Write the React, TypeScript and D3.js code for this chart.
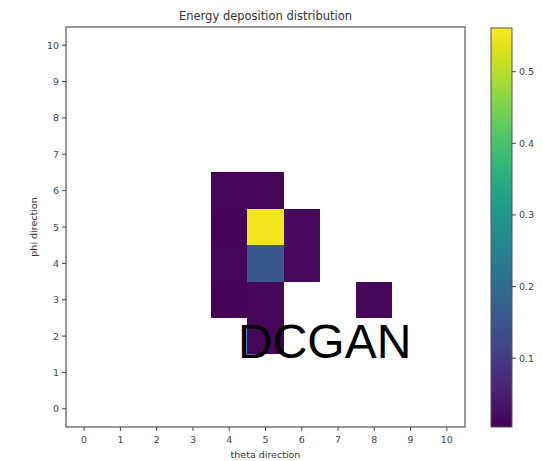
import React from 'react';
import * as d3 from 'd3';

// cells of the deposition map (theta index, phi index, energy)
const cellTheta = [4, 4, 4, 4, 5, 5, 5, 5, 5, 6, 6, 8];
const cellPhi = [6, 5, 4, 3, 6, 5, 4, 3, 2, 5, 4, 3];
const cellValue = [0.012, 0.01, 0.011, 0.01, 0.012, 0.55, 0.155, 0.014, 0.012, 0.017, 0.015, 0.014];

const tickValues = [0, 1, 2, 3, 4, 5, 6, 7, 8, 9, 10];
const colorTicks = [0.1, 0.2, 0.3, 0.4, 0.5];
const colorMin = 0.004;
const colorMax = 0.561;

export default function App() {
  const left = 66, right = 465, top = 27, bottom = 427;
  const x = d3.scaleLinear().domain([-0.5, 10.5]).range([left, right]);
  const y = d3.scaleLinear().domain([-0.5, 10.5]).range([bottom, top]);
  const color = d3.scaleSequential(d3.interpolateViridis).domain([colorMin, colorMax]);

  const cbLeft = 491, cbRight = 512;
  const cb = d3.scaleLinear().domain([colorMin, colorMax]).range([bottom, top + 1]);
  const stops = d3.range(0, 1.0001, 0.05);

  const tickColor = '#444';
  const font = 'DejaVu Sans, sans-serif';

  return (
    <svg width={543} height={461} style={{ position: 'absolute', left: 0, top: 0, background: '#fff' }}>
      <defs>
        <linearGradient id="cbar" x1="0" y1="1" x2="0" y2="0">
          {stops.map((t) => (
            <stop key={t} offset={t} stopColor={d3.interpolateViridis(t)} />
          ))}
        </linearGradient>
      </defs>
      <text x={(left + right) / 2} y={20} textAnchor="middle" fontFamily={font} fontSize={11.5} fill="#333">
        Energy deposition distribution
      </text>

      {cellValue.map((v, i) => (
        <rect
          key={i}
          x={x(cellTheta[i] - 0.5)}
          y={y(cellPhi[i] + 0.5)}
          width={x(cellTheta[i] + 0.5) - x(cellTheta[i] - 0.5)}
          height={y(cellPhi[i] - 0.5) - y(cellPhi[i] + 0.5)}
          fill={color(v)}
          shapeRendering="crispEdges"
        />
      ))}

      <rect x={left} y={top} width={right - left} height={bottom - top} fill="none" stroke="#555" strokeWidth={1.2} />

      {tickValues.map((t) => (
        <g key={'x' + t}>
          <line x1={x(t)} x2={x(t)} y1={bottom} y2={bottom + 4} stroke={tickColor} />
          <text x={x(t)} y={bottom + 16} textAnchor="middle" fontFamily={font} fontSize={9.5} fill={tickColor}>{t}</text>
        </g>
      ))}
      {tickValues.map((t) => (
        <g key={'y' + t}>
          <line x1={left - 4} x2={left} y1={y(t)} y2={y(t)} stroke={tickColor} />
          <text x={left - 7} y={y(t) + 3.5} textAnchor="end" fontFamily={font} fontSize={9.5} fill={tickColor}>{t}</text>
        </g>
      ))}
      <text x={(left + right) / 2} y={458} textAnchor="middle" fontFamily={font} fontSize={9.5} fill="#333">theta direction</text>
      <text transform={`translate(37,${(top + bottom) / 2}) rotate(-90)`} textAnchor="middle" fontFamily={font} fontSize={9.5} fill="#333">phi direction</text>

      <rect x={cbLeft} y={top + 1} width={cbRight - cbLeft} height={bottom - top - 1} fill="url(#cbar)" stroke="#555" strokeWidth={1} />
      {colorTicks.map((t) => (
        <g key={'c' + t}>
          <line x1={cbRight} x2={cbRight + 4} y1={cb(t)} y2={cb(t)} stroke={tickColor} />
          <text x={cbRight + 7} y={cb(t) + 3.5} fontFamily={font} fontSize={9.5} fill={tickColor}>{t.toFixed(1)}</text>
        </g>
      ))}

      <text x={238} y={358} fontFamily="Liberation Sans, Arial, sans-serif" fontSize={48} fill="#000">DCGAN</text>
    </svg>
  );
}
